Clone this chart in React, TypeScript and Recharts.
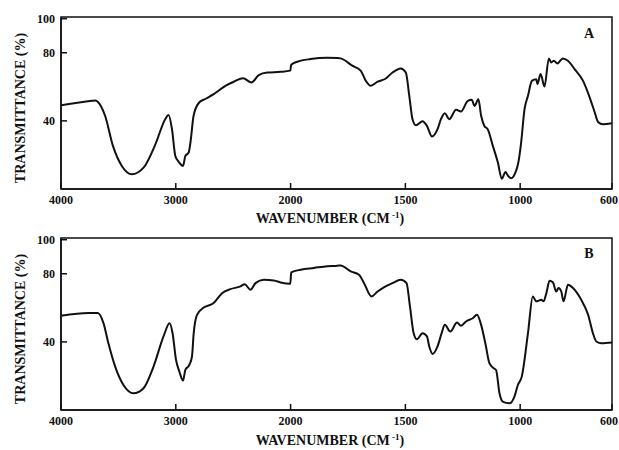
import { LineChart, Line, XAxis, YAxis, ReferenceArea } from "recharts";

// IR spectra, wavenumber (cm-1) against transmittance (%), high to low
const wavenumbersA = [
  4000, 3730, 3700, 3680, 3616, 3546, 3470, 3383, 3281, 3179, 3092, 3063, 3033, 3004, 2975,
  2937, 2917, 2888, 2873, 2845, 2800, 2740, 2670, 2568, 2495, 2413, 2341, 2277, 2203, 2087,
  2003, 1997, 1971, 1913, 1840, 1796, 1782, 1731, 1694, 1672, 1651, 1621, 1585, 1556, 1520,
  1498, 1483, 1469, 1454, 1425, 1406, 1384, 1360, 1345, 1328, 1309, 1279, 1258, 1228, 1211,
  1199, 1182, 1170, 1156, 1141, 1119, 1097, 1080, 1064, 1054, 1039, 1021, 1008, 996, 981,
  966, 949, 930, 925, 911, 894, 875, 865, 853, 838, 814, 792, 763, 726, 697, 675, 661, 639, 600,
];
const transmittanceA = [
  49.2, 51.8, 52.0, 51.2, 43.0, 25.0, 13.5, 8.6, 12.5, 26.0, 41.0, 43.4, 35.0, 19.4, 16.0,
  13.5, 19.4, 21.4, 27.0, 43.0, 50.5, 53.0, 55.7, 60.6, 63.0, 65.1, 62.5, 66.9, 68.4, 68.8,
  69.5, 73.0, 74.7, 76.3, 77.0, 76.9, 76.7, 72.4, 69.4, 63.5, 60.6, 63.0, 64.9, 68.4, 70.8,
  68.4, 54.7, 41.0, 37.5, 39.8, 37.0, 30.8, 35.1, 41.0, 44.5, 41.0, 46.5, 45.5, 51.8, 52.4,
  48.8, 52.7, 43.0, 37.0, 35.0, 25.3, 15.5, 6.0, 10.0, 8.0, 6.3, 9.6, 15.5, 27.0, 46.9,
  54.7, 63.5, 64.5, 61.6, 67.5, 60.2, 76.7, 74.3, 75.3, 73.7, 76.7, 75.3, 70.4, 63.5, 53.7,
  44.9, 39.4, 38.0, 38.6,
];

const wavenumbersB = [
  4000, 3762, 3680, 3630, 3587, 3528, 3456, 3368, 3281, 3194, 3107, 3054, 3028, 2998, 2969,
  2937, 2917, 2882, 2859, 2844, 2815, 2760, 2670, 2597, 2524, 2437, 2400, 2349, 2306, 2233,
  2146, 2087, 2003, 1997, 1956, 1898, 1840, 1796, 1782, 1738, 1702, 1680, 1648, 1621, 1592,
  1556, 1520, 1495, 1480, 1464, 1450, 1425, 1406, 1396, 1381, 1360, 1342, 1328, 1304, 1275,
  1258, 1236, 1207, 1188, 1170, 1150, 1134, 1115, 1105, 1090, 1076, 1047, 1025, 1010, 993,
  966, 945, 930, 908, 898, 886, 872, 857, 843, 833, 821, 811, 792, 770, 734, 704, 683, 668,
  646, 600,
];
const transmittanceB = [
  55.3, 56.9, 56.9, 51.0, 39.2, 25.5, 14.7, 9.8, 12.8, 25.5, 43.2, 51.0, 45.1, 29.4, 22.6,
  17.3, 23.5, 26.5, 31.4, 45.1, 55.9, 60.0, 62.8, 68.6, 71.0, 72.6, 73.9, 70.6, 74.5, 76.5,
  76.1, 74.9, 74.1, 80.8, 82.4, 83.4, 84.4, 84.7, 84.9, 81.4, 79.4, 74.5, 66.7, 69.6, 72.2,
  74.5, 76.5, 74.5, 60.8, 45.1, 41.6, 45.1, 43.2, 37.3, 32.9, 37.3, 45.1, 50.0, 46.1, 51.4,
  49.4, 52.0, 53.9, 55.9, 50.0, 38.0, 27.5, 24.5, 23.5, 9.8, 4.9, 3.9, 7.9, 14.7, 19.6,
  45.1, 66.7, 63.8, 64.7, 63.8, 68.6, 75.9, 74.9, 69.6, 71.6, 69.6, 63.8, 73.5, 71.6, 64.7,
  55.9, 45.1, 40.2, 39.2, 39.6,
];

const xTicks = [4000, 3000, 2000, 1500, 1000, 600];
const yTicks = [40, 80, 100];

// scale is halved above 2000 cm-1, as on the spectrometer chart paper
const toPos = (w: number) => (w >= 2000 ? (4000 - w) / 2 : 1000 + (2000 - w));
const fromPos = (p: number) => (p <= 1000 ? 4000 - 2 * p : 2000 - (p - 1000));

const rowsFor = (ws: number[], ts: number[]) => ws.map((w, i) => ({ pos: toPos(w), t: ts[i] }));

const FONT = '"Liberation Serif", "Times New Roman", serif';
const INK = "#111";

const XTick = (props: any) => {
  const { x, y, payload } = props;
  // the last label sits against the right edge, so pin its end there
  const last = payload.value >= 2400;
  return (
    <g>
      <line x1={x} x2={x} y1={y} y2={y - 6} stroke={INK} strokeWidth={1.5} />
      <text
        x={last ? x + 6 : x}
        y={y + 15}
        textAnchor={last ? "end" : "middle"}
        fontFamily={FONT}
        fontSize={12}
        fontWeight="bold"
        fill={INK}
      >
        {Math.round(fromPos(payload.value))}
      </text>
    </g>
  );
};

const YTick = (props: any) => {
  const { x, y, payload } = props;
  return (
    <g>
      <line x1={x} x2={x + 6} y1={y} y2={y} stroke={INK} strokeWidth={1.5} />
      <text x={x - 6} y={y + 4} textAnchor="end" fontFamily={FONT} fontSize={12} fontWeight="bold" fill={INK}>
        {payload.value}
      </text>
    </g>
  );
};

const Spectrum = ({ rows }: { rows: { pos: number; t: number }[] }) => (
  <LineChart width={619} height={225} data={rows} margin={{ top: 17, right: 7, bottom: 0, left: 0 }}>
    <XAxis
      dataKey="pos"
      type="number"
      domain={[0, 2400]}
      ticks={xTicks.map(toPos)}
      interval={0}
      tick={<XTick />}
      tickLine={false}
      tickSize={0}
      tickMargin={0}
      height={36}
      axisLine={{ stroke: INK, strokeWidth: 1.5 }}
      allowDataOverflow
    />
    <YAxis
      type="number"
      domain={[0, 101]}
      ticks={yTicks}
      interval={0}
      tick={<YTick />}
      tickLine={false}
      tickSize={0}
      tickMargin={0}
      width={61}
      axisLine={{ stroke: INK, strokeWidth: 1.5 }}
      allowDataOverflow
    />
    <ReferenceArea x1={0} x2={2400} y1={0} y2={101} fill="none" stroke={INK} strokeWidth={1.5} />
    <Line
      dataKey="t"
      type="monotone"
      stroke={INK}
      strokeWidth={2}
      dot={false}
      isAnimationActive={false}
    />
  </LineChart>
);

const panels = [
  { letter: "A", top: 0, rows: rowsFor(wavenumbersA, transmittanceA), titleY: 223, yMid: 108, letterY: 38 },
  { letter: "B", top: 221, rows: rowsFor(wavenumbersB, transmittanceB), titleY: 445, yMid: 329, letterY: 258 },
];

export default function App() {
  return (
    <div style={{ position: "absolute", left: 0, top: 0, width: 619, height: 450, background: "#fff" }}>
      {panels.map((p) => (
        <div key={p.letter} style={{ position: "absolute", left: 0, top: p.top }}>
          <Spectrum rows={p.rows} />
        </div>
      ))}
      <svg width={619} height={450} style={{ position: "absolute", left: 0, top: 0, pointerEvents: "none" }}>
        {panels.map((p) => (
          <g key={p.letter} fontFamily={FONT} fontWeight="bold" fill={INK}>
            <text
              transform={`translate(20 ${p.yMid}) rotate(-90)`}
              textAnchor="middle"
              dominantBaseline="central"
              fontSize={14}
            >
              TRANSMITTANCE (%)
            </text>
            <text x={330} y={p.titleY} textAnchor="middle" fontSize={14}>
              WAVENUMBER (CM
              <tspan dy={-5} fontSize={9}> -1</tspan>
              <tspan dy={5}>)</tspan>
            </text>
            <text x={589} y={p.letterY} textAnchor="middle" fontSize={14}>
              {p.letter}
            </text>
          </g>
        ))}
      </svg>
    </div>
  );
}
